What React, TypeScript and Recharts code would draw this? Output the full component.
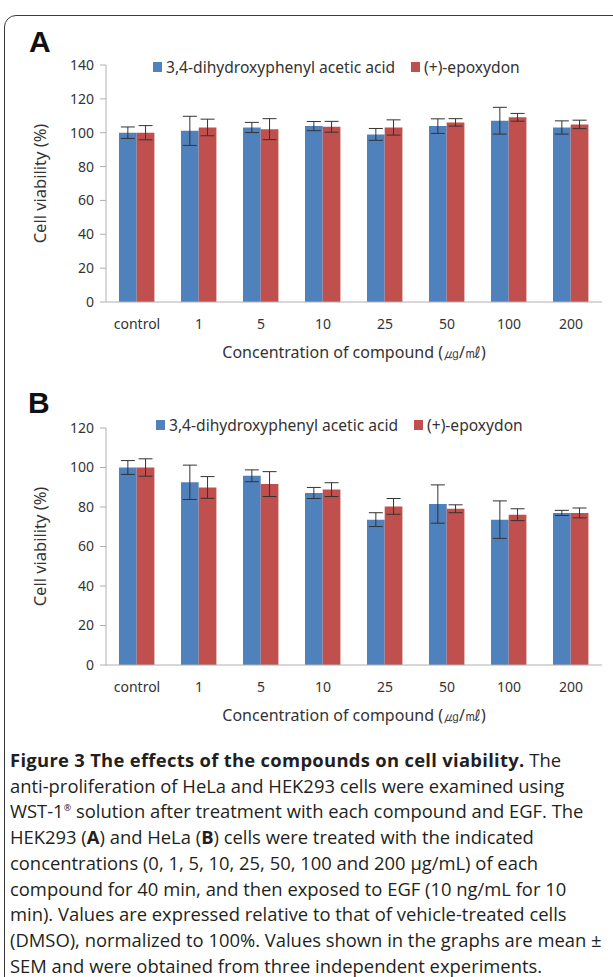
import React from 'react';
import { BarChart, Bar, XAxis, YAxis, ErrorBar, Legend } from 'recharts';

const categories = ['control', '1', '5', '10', '25', '50', '100', '200'];
const aAcid = [100, 101.1, 103.1, 103.9, 99, 103.9, 107.1, 103.1];
const aAcidErr = [3.4, 8.6, 3, 2.7, 3.5, 4.3, 7.9, 3.9];
const aEpox = [100, 103.1, 102.1, 103.5, 103.1, 106.1, 109.1, 104.9];
const aEpoxErr = [4.2, 4.9, 6.2, 3.2, 4.5, 2.2, 2.3, 2.5];
const bAcid = [100, 92.5, 95.8, 87.1, 73.6, 81.5, 73.6, 77];
const bAcidErr = [3.5, 8.7, 3, 2.8, 3.5, 9.7, 9.5, 1.3];
const bEpox = [100, 89.9, 91.6, 88.8, 80.3, 79.1, 76.1, 77];
const bEpoxErr = [4.4, 5.5, 6.3, 3.5, 4, 2, 3, 2.5];
const aTicks = [0, 20, 40, 60, 80, 100, 120, 140];
const bTicks = [0, 20, 40, 60, 80, 100, 120];
const boundaryTicks = [0, 1, 2, 3, 4, 5, 6, 7, 8];

const seriesKeys = ['acid', 'epox'];
const seriesNames = ['3,4-dihydroxyphenyl acetic acid', '(+)-epoxydon'];
const BLUE = '#4F81BD';
const RED = '#C0504D';
const AXIS = '#b0b0b0';
const TEXT = '#333333';
const FONT = '"Noto Sans", "Open Sans", sans-serif';
const xTitle = 'Concentration of compound (㎍/㎖)';
const yTitle = 'Cell viability (%)';

function build(acid: number[], acidErr: number[], epox: number[], epoxErr: number[]) {
  return categories.map((c, i) => ({
    name: c,
    acid: acid[i],
    acidErr: acidErr[i],
    epox: epox[i],
    epoxErr: epoxErr[i],
  }));
}

const LegendContent = (props: any) => {
  const items = [...(props.payload || [])].sort(
    (p: any, q: any) => seriesKeys.indexOf(p.dataKey) - seriesKeys.indexOf(q.dataKey)
  );
  return (
    <div style={{ display: 'flex', alignItems: 'center', fontFamily: FONT, fontSize: 15.6, lineHeight: '20px', color: TEXT, whiteSpace: 'nowrap' }}>
      {items.map((it: any, i: number) => (
        <div key={i} style={{ display: 'flex', alignItems: 'center', marginRight: i === 0 ? 16 : 0 }}>
          <span style={{ display: 'inline-block', width: 9, height: 10, background: it.color, marginRight: 4 }} />
          <span>{it.value}</span>
        </div>
      ))}
    </div>
  );
};

function Panel({ data, ticks, max, legendLeft, legendTop }: any) {
  return (
    <BarChart
      width={613}
      height={370}
      data={data}
      margin={{ top: 65, right: 11, bottom: 8, left: 0 }}
      barGap={0}
      barSize={17.7}
    >
      <XAxis
        xAxisId="bnd"
        type="number"
        domain={[0, 8]}
        ticks={boundaryTicks}
        interval={0}
        height={0}
        axisLine={false}
        tickLine={{ stroke: AXIS }}
        tickSize={5}
        tickFormatter={() => ''}
        allowDataOverflow
      />
      <XAxis
        xAxisId="cat"
        dataKey="name"
        height={60}
        axisLine={{ stroke: AXIS }}
        tickLine={false}
        tickSize={0}
        tickMargin={17}
        interval={0}
        tick={{ fill: TEXT, fontSize: 14, fontFamily: FONT }}
        label={{ value: xTitle, position: 'insideBottom', offset: 4, fill: TEXT, fontSize: 16, fontFamily: FONT }}
      />
      <YAxis
        domain={[0, max]}
        ticks={ticks}
        interval={0}
        width={106}
        axisLine={{ stroke: AXIS }}
        tickLine={{ stroke: AXIS }}
        tickSize={6}
        tickMargin={6}
        tick={{ fill: TEXT, fontSize: 14, fontFamily: FONT }}
        label={{ value: yTitle, angle: -90, position: 'insideLeft', offset: 40, fill: TEXT, fontSize: 16.5, fontFamily: FONT, style: { textAnchor: 'middle', fontSize: 16.5 } }}
      />
      <Legend
        layout="horizontal"
        verticalAlign="middle"
        align="center"
        content={LegendContent}
        wrapperStyle={{ top: legendTop, left: legendLeft, width: 'auto', height: 'auto' }}
      />
      <Bar xAxisId="cat" dataKey="acid" name={seriesNames[0]} fill={BLUE} isAnimationActive={false}>
        <ErrorBar dataKey="acidErr" width={7} stroke="#333" strokeWidth={1} />
      </Bar>
      <Bar xAxisId="cat" dataKey="epox" name={seriesNames[1]} fill={RED} isAnimationActive={false}>
        <ErrorBar dataKey="epoxErr" width={7} stroke="#333" strokeWidth={1} />
      </Bar>
    </BarChart>
  );
}

const captionLines: React.ReactNode[] = [
  <><b style={{ letterSpacing: 0.3 }}>Figure 3 The effects of the compounds on cell viability.</b> The</>,
  <>anti-proliferation of HeLa and HEK293 cells were examined using</>,
  <>WST-1<sup style={{ fontSize: 9, verticalAlign: 'super', lineHeight: 0 }}>®</sup> solution after treatment with each compound and EGF. The</>,
  <>HEK293 (<b>A</b>) and HeLa (<b>B</b>) cells were treated with the indicated</>,
  <>concentrations (0, 1, 5, 10, 25, 50, 100 and 200 μg/mL) of each</>,
  <>compound for 40 min, and then exposed to EGF (10 ng/mL for 10</>,
  <>min). Values are expressed relative to that of vehicle-treated cells</>,
  <>(DMSO), normalized to 100%. Values shown in the graphs are mean ±</>,
  <>SEM and were obtained from three independent experiments.</>,
];

export default function App() {
  const dataA = build(aAcid, aAcidErr, aEpox, aEpoxErr);
  const dataB = build(bAcid, bAcidErr, bEpox, bEpoxErr);
  return (
    <div style={{ position: 'absolute', left: 0, top: 0, width: 613, height: 977, overflow: 'hidden', background: '#fff' }}>
      <div style={{ position: 'absolute', left: 4, top: 15, width: 700, height: 1100, border: '1.5px solid #3a3a3a', borderTopLeftRadius: 12, boxSizing: 'border-box' }} />
      <div style={{ position: 'absolute', left: 0, top: 0 }}>
        <Panel data={dataA} ticks={aTicks} max={140} legendLeft={153} legendTop={57} />
      </div>
      <div style={{ position: 'absolute', left: 0, top: 363 }}>
        <Panel data={dataB} ticks={bTicks} max={120} legendLeft={156} legendTop={52} />
      </div>
      <div style={{ position: 'absolute', left: 29, top: 22, fontFamily: '"Liberation Sans", Arial, sans-serif', fontWeight: 'bold', fontSize: 30, lineHeight: '40px', color: '#111' }}>A</div>
      <div style={{ position: 'absolute', left: 28, top: 383, fontFamily: '"Liberation Sans", Arial, sans-serif', fontWeight: 'bold', fontSize: 30, lineHeight: '40px', color: '#111' }}>B</div>
      <div style={{ position: 'absolute', left: 10, top: 747, fontFamily: '"Open Sans", sans-serif', fontSize: 18.4, lineHeight: '25.7px', color: '#231f20', whiteSpace: 'nowrap' }}>
        {captionLines.map((l, i) => (
          <div key={i}>{l}</div>
        ))}
      </div>
    </div>
  );
}
